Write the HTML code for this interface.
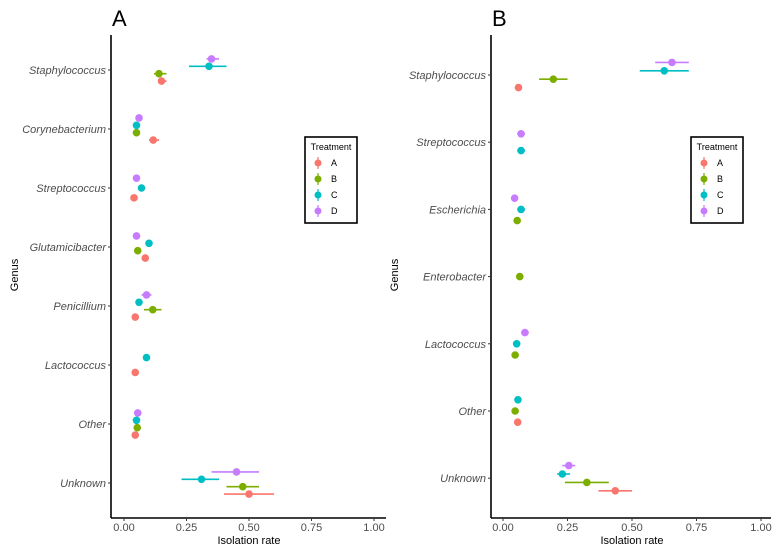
<!DOCTYPE html>
<html><head><meta charset="utf-8"><style>
body{margin:0;background:#fff;}
svg{display:block;font-family:"Liberation Sans",Arial,sans-serif;}
</style></head><body>
<svg id="chart" width="778" height="551" viewBox="0 0 778 551"></svg>
<script>
const treatments=["A","B","C","D"];
const colors={A:"#F8766D",B:"#7CAE00",C:"#00BFC4",D:"#C77CFF"};
const xTicks=[0,0.25,0.5,0.75,1];
const xTickLabels=["0.00","0.25","0.50","0.75","1.00"];
const genusA=["Staphylococcus","Corynebacterium","Streptococcus","Glutamicibacter","Penicillium","Lactococcus","Other","Unknown"];
// [genus, treatment, value, lo, hi]
const pointsA=[
["Staphylococcus","A",0.15,0.14,0.17],["Staphylococcus","B",0.14,0.12,0.17],["Staphylococcus","C",0.34,0.26,0.41],["Staphylococcus","D",0.35,0.33,0.38],
["Corynebacterium","A",0.117,0.10,0.14],["Corynebacterium","B",0.05,0.05,0.05],["Corynebacterium","C",0.05,0.05,0.05],["Corynebacterium","D",0.06,0.06,0.06],
["Streptococcus","A",0.04,0.04,0.04],["Streptococcus","C",0.07,0.06,0.08],["Streptococcus","D",0.05,0.05,0.05],
["Glutamicibacter","A",0.085,0.085,0.085],["Glutamicibacter","B",0.055,0.055,0.055],["Glutamicibacter","C",0.10,0.10,0.10],["Glutamicibacter","D",0.05,0.05,0.05],
["Penicillium","A",0.045,0.045,0.045],["Penicillium","B",0.115,0.08,0.15],["Penicillium","C",0.06,0.06,0.06],["Penicillium","D",0.09,0.07,0.11],
["Lactococcus","A",0.045,0.045,0.045],["Lactococcus","C",0.09,0.09,0.09],
["Other","A",0.045,0.045,0.045],["Other","B",0.053,0.053,0.053],["Other","C",0.05,0.05,0.05],["Other","D",0.055,0.055,0.055],
["Unknown","A",0.50,0.40,0.60],["Unknown","B",0.475,0.41,0.54],["Unknown","C",0.31,0.23,0.38],["Unknown","D",0.45,0.35,0.54]
];
const genusB=["Staphylococcus","Streptococcus","Escherichia","Enterobacter","Lactococcus","Other","Unknown"];
const pointsB=[
["Staphylococcus","A",0.06,0.06,0.06],["Staphylococcus","B",0.195,0.14,0.25],["Staphylococcus","C",0.625,0.53,0.72],["Staphylococcus","D",0.655,0.59,0.72],
["Streptococcus","C",0.07,0.055,0.085],["Streptococcus","D",0.07,0.055,0.085],
["Escherichia","B",0.055,0.055,0.055],["Escherichia","C",0.07,0.055,0.085],["Escherichia","D",0.045,0.045,0.045],
["Enterobacter","B",0.065,0.065,0.065],
["Lactococcus","B",0.047,0.047,0.047],["Lactococcus","C",0.053,0.053,0.053],["Lactococcus","D",0.085,0.07,0.10],
["Other","A",0.057,0.057,0.057],["Other","B",0.047,0.047,0.047],["Other","C",0.058,0.058,0.058],
["Unknown","A",0.435,0.37,0.50],["Unknown","B",0.325,0.24,0.41],["Unknown","C",0.23,0.21,0.26],["Unknown","D",0.255,0.23,0.28]
];
const NS="http://www.w3.org/2000/svg";
const svg=document.getElementById("chart");
function mk(tag,attrs,parent,text){const e=document.createElementNS(NS,tag);for(const k in attrs)e.setAttribute(k,attrs[k]);if(text!==undefined)e.textContent=text;(parent||svg).appendChild(e);return e;}

function panel(cfg){
  const g=mk("g",{});
  
  
  const xs=v=>cfg.x0+v*(cfg.x1-cfg.x0);
  const ys=i=>cfg.yTop+i*cfg.step;
  const t=mk("text",{x:cfg.axisX+1,y:26,"font-size":22,fill:"#000"},g,cfg.label);
  
  
  // axes
  const ya=mk("line",{x1:cfg.axisX,y1:cfg.top,x2:cfg.axisX,y2:cfg.bottom,stroke:"#000","stroke-width":1.6},g);
  
  
  const xa=mk("line",{x1:cfg.axisX,y1:cfg.bottom,x2:cfg.right,y2:cfg.bottom,stroke:"#000","stroke-width":1.6},g);
  
  
  xTicks.forEach((v,i)=>{
    mk("line",{x1:xs(v),y1:cfg.bottom,x2:xs(v),y2:cfg.bottom+3,stroke:"#333"},g);
    const tl=mk("text",{x:xs(v),y:cfg.bottom+13,"font-size":11,fill:"#4d4d4d","text-anchor":"middle"},g,xTickLabels[i]);
    
    
  });
  cfg.genus.forEach((n,i)=>{
    mk("line",{x1:cfg.axisX-3,y1:ys(i),x2:cfg.axisX,y2:ys(i),stroke:"#333"},g);
    const tl=mk("text",{x:cfg.axisX-5,y:ys(i)+4,"font-size":11,"font-style":"italic",fill:"#4d4d4d","text-anchor":"end"},g,n);
    
    
  });
  const xt=mk("text",{x:(xs(0)+xs(1))/2,y:544,"font-size":11,fill:"#000","text-anchor":"middle"},g,"Isolation rate");
  
  
  const yt=mk("text",{x:0,y:0,"font-size":11,fill:"#000","text-anchor":"middle",transform:`translate(${cfg.axisX-93},275) rotate(-90)`},g,"Genus");
  
  
  // points
  cfg.genus.forEach((n,gi)=>{
    const pts=cfg.points.filter(p=>p[0]===n);
    const k=pts.length, sp=cfg.dodge/k;
    pts.sort((a,b)=>treatments.indexOf(a[1])-treatments.indexOf(b[1]));
    pts.forEach((p,j)=>{
      const y=ys(gi)+((k-1)/2-j)*sp;
      const c=colors[p[1]];
      if(p[4]>p[3]){
        const l=mk("line",{x1:xs(p[3]),y1:y,x2:xs(p[4]),y2:y,stroke:c,"stroke-width":1.6},g);
        
        
      }
      const ci=mk("circle",{cx:xs(p[2]),cy:y,r:3.8,fill:c},g);
      
      
    });
  });
  // legend
  const lg=mk("g",{},g);
  
  
  mk("rect",{x:cfg.legX,y:137,width:52,height:86,fill:"#fff",stroke:"#000","stroke-width":1.6},lg);
  mk("text",{x:cfg.legX+26,y:150,"font-size":9,fill:"#000","text-anchor":"middle"},lg,"Treatment");
  treatments.forEach((tr,i)=>{
    const y=163+i*16;
    const e=mk("g",{},lg);
    
    
    mk("line",{x1:cfg.legX+13,y1:y-6,x2:cfg.legX+13,y2:y+6,stroke:colors[tr],"stroke-width":1.2},e);
    mk("circle",{cx:cfg.legX+13,cy:y,r:3.5,fill:colors[tr]},e);
    mk("text",{x:cfg.legX+26,y:y+3,"font-size":9,fill:"#000"},e,tr);
  });
}
panel({label:"A",genus:genusA,points:pointsA,axisX:111,top:35,bottom:518,right:386,x0:124,x1:374,yTop:70,step:59,dodge:29.6,legX:305});
panel({label:"B",genus:genusB,points:pointsB,axisX:491,top:35,bottom:518,right:771,x0:503,x1:761,yTop:75,step:67.2,dodge:33.6,legX:691});
</script>
</body></html>
